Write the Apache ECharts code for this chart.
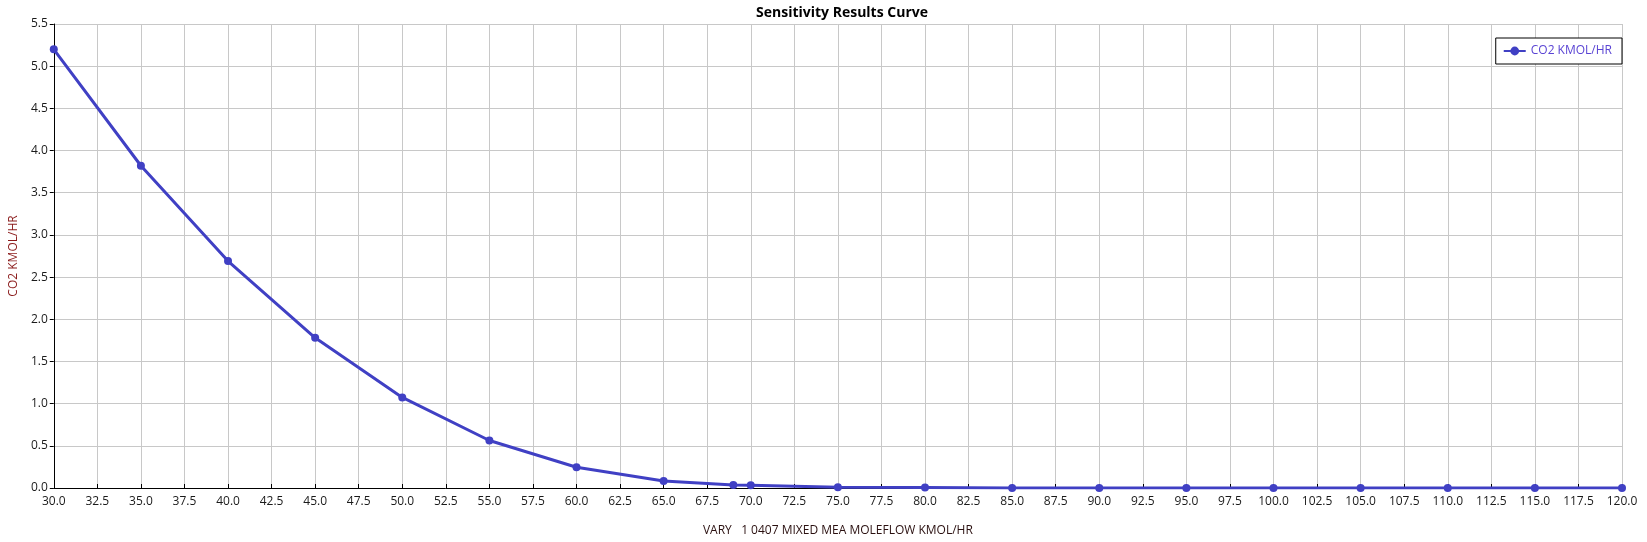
<!DOCTYPE html>
<html>
<head>
<meta charset="utf-8">
<script src="https://cdn.jsdelivr.net/npm/echarts@6/dist/echarts.min.js"></script>
<style>
  html, body { margin: 0; padding: 0; background: #fff; }
  #chart { width: 1647px; height: 542px; }
</style>
</head>
<body>
<div id="chart"></div>
<script>
// values
const flowValues = [30, 35, 40, 45, 50, 55, 60, 65, 69, 70, 75, 80, 85, 90, 95, 100, 105, 110, 115, 120];
const co2Values = [5.2, 3.82, 2.69, 1.78, 1.074, 0.563, 0.246, 0.082, 0.037, 0.033, 0.008, 0.006, 0.001, 0, 0, 0, 0, 0, 0, 0];
const seriesName = "CO2 KMOL/HR";
const xTitle = "VARY   1 0407 MIXED MEA MOLEFLOW KMOL/HR";
const yTitle = "CO2 KMOL/HR";
const chartTitle = "Sensitivity Results Curve";

const lineColor = "#4040C4";
const font = "'Open Sans', 'Noto Sans', sans-serif";

const chart = echarts.init(document.getElementById("chart"));

chart.setOption({
  animation: false,
  backgroundColor: "#fff",
  title: {
    text: chartTitle,
    left: 837,
    textAlign: "center",
    top: 1,
    textStyle: { fontFamily: font, fontSize: 14, fontWeight: "bold", color: "#000" },
  },
  legend: {
    data: [seriesName],
    right: 25,
    top: 38,
    orient: "vertical",
    backgroundColor: "#fff",
    borderColor: "#000",
    borderWidth: 1,
    borderRadius: 0,
    padding: [7, 10, 7, 7],
    itemWidth: 22,
    itemHeight: 11,
    itemGap: 6,
    textStyle: { fontFamily: font, fontSize: 12, color: "#5a44d4" },
  },
  grid: { left: 52, right: 25, top: 24, bottom: 50, containLabel: false },
  xAxis: {
    type: "value",
    min: 30,
    max: 120,
    interval: 2.5,
    name: xTitle,
    nameLocation: "middle",
    nameGap: 37,
    nameTextStyle: { fontFamily: font, fontSize: 12, color: "#2a1010" },
    axisLine: { show: true, onZero: false, lineStyle: { color: "#000", width: 1 } },
    axisTick: { show: true, inside: true, length: 4, lineStyle: { color: "#000" } },
    axisLabel: {
      fontFamily: font, fontSize: 12, color: "#1a1a1a", margin: 8,
      formatter: (v) => v.toFixed(1),
    },
    splitLine: { show: true, lineStyle: { color: "#c8c8c8", width: 1 } },
  },
  yAxis: {
    type: "value",
    min: 0,
    max: 5.5,
    interval: 0.5,
    name: yTitle,
    nameLocation: "middle",
    nameGap: 32,
    nameRotate: 90,
    nameTextStyle: { fontFamily: font, fontSize: 12, color: "#8a1a1a" },
    axisLine: { show: true, lineStyle: { color: "#000", width: 1 } },
    axisTick: { show: true, length: 4, lineStyle: { color: "#000" } },
    axisLabel: {
      fontFamily: font, fontSize: 12, color: "#1a1a1a", margin: 6,
      formatter: (v) => v.toFixed(1),
    },
    splitLine: { show: true, lineStyle: { color: "#c8c8c8", width: 1 } },
  },
  series: [
    {
      name: seriesName,
      type: "line",
      data: flowValues.map((x, i) => [x, co2Values[i]]),
      symbol: "circle",
      symbolSize: 8,
      showAllSymbol: true,
      lineStyle: { color: lineColor, width: 3 },
      itemStyle: { color: lineColor },
    },
  ],
});
</script>
</body>
</html>
